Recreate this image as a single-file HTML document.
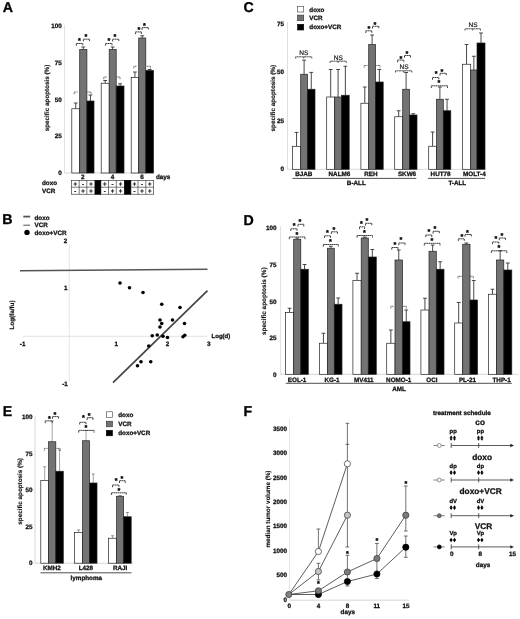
<!DOCTYPE html>
<html><head><meta charset="utf-8"><title>Figure</title>
<style>html,body{margin:0;padding:0;background:#fff;overflow:hidden}svg{display:block}text{font-family:'Liberation Sans', Arial, sans-serif;text-rendering:geometricPrecision;stroke-linejoin:round}</style>
</head><body>
<svg width="520" height="619" viewBox="0 0 520 619">
<rect x="0" y="0" width="520" height="619" fill="#fff"/>
<text x="2.70" y="11.80" font-size="14.20" font-weight="bold" fill="#000" stroke="#000" stroke-width="0.3">A</text>
<text x="2.20" y="224.30" font-size="14.20" font-weight="bold" fill="#000" stroke="#000" stroke-width="0.3">B</text>
<text x="243.40" y="11.75" font-size="14.20" font-weight="bold" fill="#000" stroke="#000" stroke-width="0.3">C</text>
<text x="243.40" y="224.50" font-size="14.20" font-weight="bold" fill="#000" stroke="#000" stroke-width="0.3">D</text>
<text x="2.80" y="415.70" font-size="14.20" font-weight="bold" fill="#000" stroke="#000" stroke-width="0.3">E</text>
<text x="243.40" y="415.70" font-size="14.20" font-weight="bold" fill="#000" stroke="#000" stroke-width="0.3">F</text>
<line x1="64.50" y1="25.00" x2="64.50" y2="173.00" stroke="#dadada" stroke-width="0.8"/>
<line x1="64.50" y1="173.00" x2="154.00" y2="173.00" stroke="#cccccc" stroke-width="0.8"/>
<text x="61.80" y="28.26" text-anchor="end" font-size="6.3" font-weight="bold" fill="#111" stroke="#111" stroke-width="0.28">100</text>
<text x="61.80" y="65.26" text-anchor="end" font-size="6.3" font-weight="bold" fill="#111" stroke="#111" stroke-width="0.28">75</text>
<text x="61.80" y="101.86" text-anchor="end" font-size="6.3" font-weight="bold" fill="#111" stroke="#111" stroke-width="0.28">50</text>
<text x="61.80" y="138.46" text-anchor="end" font-size="6.3" font-weight="bold" fill="#111" stroke="#111" stroke-width="0.28">25</text>
<text x="61.80" y="175.26" text-anchor="end" font-size="6.3" font-weight="bold" fill="#111" stroke="#111" stroke-width="0.28">0</text>
<text x="47.00" y="100.26" text-anchor="middle" font-size="6.3" font-weight="bold" fill="#111" stroke="#111" stroke-width="0.14" transform="rotate(-90 47.00 98.00)">specific apoptosis (%)</text>
<line x1="75.75" y1="103.00" x2="75.75" y2="108.75" stroke="#333" stroke-width="0.9"/>
<line x1="73.85" y1="103.00" x2="77.65" y2="103.00" stroke="#333" stroke-width="0.9"/>
<rect x="71.80" y="108.75" width="7.90" height="64.25" fill="#fff" stroke="#222" stroke-width="0.7"/>
<line x1="83.30" y1="47.00" x2="83.30" y2="49.50" stroke="#333" stroke-width="0.9"/>
<line x1="81.40" y1="47.00" x2="85.20" y2="47.00" stroke="#333" stroke-width="0.9"/>
<rect x="79.70" y="49.50" width="7.20" height="123.50" fill="#737373" stroke="#222" stroke-width="0.7"/>
<line x1="90.45" y1="95.00" x2="90.45" y2="101.00" stroke="#333" stroke-width="0.9"/>
<line x1="88.55" y1="95.00" x2="92.35" y2="95.00" stroke="#333" stroke-width="0.9"/>
<rect x="86.90" y="101.00" width="7.10" height="72.00" fill="#000" stroke="#222" stroke-width="0.7"/>
<line x1="105.20" y1="80.50" x2="105.20" y2="83.25" stroke="#333" stroke-width="0.9"/>
<line x1="103.30" y1="80.50" x2="107.10" y2="80.50" stroke="#333" stroke-width="0.9"/>
<rect x="101.20" y="83.25" width="8.00" height="89.75" fill="#fff" stroke="#222" stroke-width="0.7"/>
<line x1="112.70" y1="47.00" x2="112.70" y2="49.50" stroke="#333" stroke-width="0.9"/>
<line x1="110.80" y1="47.00" x2="114.60" y2="47.00" stroke="#333" stroke-width="0.9"/>
<rect x="109.20" y="49.50" width="7.00" height="123.50" fill="#737373" stroke="#222" stroke-width="0.7"/>
<line x1="120.10" y1="83.75" x2="120.10" y2="86.00" stroke="#333" stroke-width="0.9"/>
<line x1="118.20" y1="83.75" x2="122.00" y2="83.75" stroke="#333" stroke-width="0.9"/>
<rect x="116.20" y="86.00" width="7.80" height="87.00" fill="#000" stroke="#222" stroke-width="0.7"/>
<line x1="134.95" y1="72.00" x2="134.95" y2="77.50" stroke="#333" stroke-width="0.9"/>
<line x1="133.05" y1="72.00" x2="136.85" y2="72.00" stroke="#333" stroke-width="0.9"/>
<rect x="131.20" y="77.50" width="7.50" height="95.50" fill="#fff" stroke="#222" stroke-width="0.7"/>
<line x1="142.25" y1="35.75" x2="142.25" y2="38.00" stroke="#333" stroke-width="0.9"/>
<line x1="140.35" y1="35.75" x2="144.15" y2="35.75" stroke="#333" stroke-width="0.9"/>
<rect x="138.70" y="38.00" width="7.10" height="135.00" fill="#737373" stroke="#222" stroke-width="0.7"/>
<line x1="149.65" y1="69.50" x2="149.65" y2="70.50" stroke="#333" stroke-width="0.9"/>
<line x1="147.75" y1="69.50" x2="151.55" y2="69.50" stroke="#333" stroke-width="0.9"/>
<rect x="145.80" y="70.50" width="7.70" height="102.50" fill="#000" stroke="#222" stroke-width="0.7"/>
<path d="M76.40 45.70V43.50H82.80V45.70" fill="none" stroke="#2a2a2a" stroke-width="0.9" stroke-dasharray="1.8 0.3"/>
<text x="79.50" y="43.40" text-anchor="middle" font-size="7.2" font-weight="bold" fill="#000" stroke="#000" stroke-width="0.35">*</text>
<path d="M83.40 41.40V39.20H89.50V41.40" fill="none" stroke="#2a2a2a" stroke-width="0.9" stroke-dasharray="1.8 0.3"/>
<text x="85.80" y="39.20" text-anchor="middle" font-size="7.2" font-weight="bold" fill="#000" stroke="#000" stroke-width="0.35">*</text>
<path d="M105.60 45.70V43.50H112.00V45.70" fill="none" stroke="#2a2a2a" stroke-width="0.9" stroke-dasharray="1.8 0.3"/>
<text x="108.80" y="43.40" text-anchor="middle" font-size="7.2" font-weight="bold" fill="#000" stroke="#000" stroke-width="0.35">*</text>
<path d="M112.60 41.40V39.20H118.80V41.40" fill="none" stroke="#2a2a2a" stroke-width="0.9" stroke-dasharray="1.8 0.3"/>
<text x="115.00" y="39.20" text-anchor="middle" font-size="7.2" font-weight="bold" fill="#000" stroke="#000" stroke-width="0.35">*</text>
<path d="M135.50 34.10V31.90H141.40V34.10" fill="none" stroke="#2a2a2a" stroke-width="0.9" stroke-dasharray="1.8 0.3"/>
<text x="138.80" y="31.90" text-anchor="middle" font-size="7.2" font-weight="bold" fill="#000" stroke="#000" stroke-width="0.35">*</text>
<path d="M142.00 29.80V27.60H148.30V29.80" fill="none" stroke="#2a2a2a" stroke-width="0.9" stroke-dasharray="1.8 0.3"/>
<text x="144.50" y="27.50" text-anchor="middle" font-size="7.2" font-weight="bold" fill="#000" stroke="#000" stroke-width="0.35">*</text>
<path d="M74.20 94.20V92.00H77.50" fill="none" stroke="#444" stroke-width="0.8" stroke-dasharray="1.2 0.4"/>
<path d="M87.50 92.00H91.00V94.20" fill="none" stroke="#444" stroke-width="0.8" stroke-dasharray="1.2 0.4"/>
<path d="M103.80 79.20V77.00H107.00" fill="none" stroke="#444" stroke-width="0.8" stroke-dasharray="1.2 0.4"/>
<path d="M116.30 77.00H120.00V79.20" fill="none" stroke="#444" stroke-width="0.8" stroke-dasharray="1.2 0.4"/>
<path d="M133.80 68.50V66.30H136.80" fill="none" stroke="#444" stroke-width="0.8" stroke-dasharray="1.2 0.4"/>
<path d="M146.80 66.30H150.50V68.50" fill="none" stroke="#444" stroke-width="0.8" stroke-dasharray="1.2 0.4"/>
<text x="82.80" y="178.76" text-anchor="middle" font-size="6.3" font-weight="bold" fill="#111" stroke="#111" stroke-width="0.28">2</text>
<text x="112.40" y="178.76" text-anchor="middle" font-size="6.3" font-weight="bold" fill="#111" stroke="#111" stroke-width="0.28">4</text>
<text x="142.10" y="178.76" text-anchor="middle" font-size="6.3" font-weight="bold" fill="#111" stroke="#111" stroke-width="0.28">6</text>
<text x="156.00" y="178.66" text-anchor="start" font-size="6.3" font-weight="bold" fill="#111" stroke="#111" stroke-width="0.28">days</text>
<text x="42.00" y="185.26" text-anchor="start" font-size="6.3" font-weight="bold" fill="#111" stroke="#111" stroke-width="0.28">doxo</text>
<text x="42.00" y="192.86" text-anchor="start" font-size="6.3" font-weight="bold" fill="#111" stroke="#111" stroke-width="0.28">VCR</text>
<rect x="71.30" y="180.30" width="82.40" height="13.90" fill="#fff" stroke="#222" stroke-width="0.6"/>
<line x1="71.30" y1="187.20" x2="153.70" y2="187.20" stroke="#222" stroke-width="0.6"/>
<line x1="79.20" y1="180.30" x2="79.20" y2="194.20" stroke="#222" stroke-width="0.6"/>
<line x1="86.80" y1="180.30" x2="86.80" y2="194.20" stroke="#222" stroke-width="0.6"/>
<line x1="95.00" y1="180.30" x2="95.00" y2="194.20" stroke="#222" stroke-width="0.6"/>
<line x1="100.80" y1="180.30" x2="100.80" y2="194.20" stroke="#222" stroke-width="0.6"/>
<line x1="108.50" y1="180.30" x2="108.50" y2="194.20" stroke="#222" stroke-width="0.6"/>
<line x1="116.30" y1="180.30" x2="116.30" y2="194.20" stroke="#222" stroke-width="0.6"/>
<line x1="124.50" y1="180.30" x2="124.50" y2="194.20" stroke="#222" stroke-width="0.6"/>
<line x1="130.80" y1="180.30" x2="130.80" y2="194.20" stroke="#222" stroke-width="0.6"/>
<line x1="138.00" y1="180.30" x2="138.00" y2="194.20" stroke="#222" stroke-width="0.6"/>
<line x1="145.80" y1="180.30" x2="145.80" y2="194.20" stroke="#222" stroke-width="0.6"/>
<rect x="95.00" y="180.30" width="5.80" height="13.90" fill="#000" stroke="#000" stroke-width="0.5"/>
<rect x="124.50" y="180.30" width="6.30" height="13.90" fill="#000" stroke="#000" stroke-width="0.5"/>
<text x="75.25" y="186.05" text-anchor="middle" font-size="6.0" font-weight="bold" fill="#111" stroke="#111" stroke-width="0.28">+</text>
<text x="75.25" y="193.05" text-anchor="middle" font-size="6.0" font-weight="bold" fill="#111" stroke="#111" stroke-width="0.28">-</text>
<text x="83.00" y="186.05" text-anchor="middle" font-size="6.0" font-weight="bold" fill="#111" stroke="#111" stroke-width="0.28">-</text>
<text x="83.00" y="193.05" text-anchor="middle" font-size="6.0" font-weight="bold" fill="#111" stroke="#111" stroke-width="0.28">+</text>
<text x="90.90" y="186.05" text-anchor="middle" font-size="6.0" font-weight="bold" fill="#111" stroke="#111" stroke-width="0.28">+</text>
<text x="90.90" y="193.05" text-anchor="middle" font-size="6.0" font-weight="bold" fill="#111" stroke="#111" stroke-width="0.28">+</text>
<text x="104.65" y="186.05" text-anchor="middle" font-size="6.0" font-weight="bold" fill="#111" stroke="#111" stroke-width="0.28">+</text>
<text x="104.65" y="193.05" text-anchor="middle" font-size="6.0" font-weight="bold" fill="#111" stroke="#111" stroke-width="0.28">-</text>
<text x="112.40" y="186.05" text-anchor="middle" font-size="6.0" font-weight="bold" fill="#111" stroke="#111" stroke-width="0.28">-</text>
<text x="112.40" y="193.05" text-anchor="middle" font-size="6.0" font-weight="bold" fill="#111" stroke="#111" stroke-width="0.28">+</text>
<text x="120.40" y="186.05" text-anchor="middle" font-size="6.0" font-weight="bold" fill="#111" stroke="#111" stroke-width="0.28">+</text>
<text x="120.40" y="193.05" text-anchor="middle" font-size="6.0" font-weight="bold" fill="#111" stroke="#111" stroke-width="0.28">+</text>
<text x="134.40" y="186.05" text-anchor="middle" font-size="6.0" font-weight="bold" fill="#111" stroke="#111" stroke-width="0.28">+</text>
<text x="134.40" y="193.05" text-anchor="middle" font-size="6.0" font-weight="bold" fill="#111" stroke="#111" stroke-width="0.28">-</text>
<text x="141.90" y="186.05" text-anchor="middle" font-size="6.0" font-weight="bold" fill="#111" stroke="#111" stroke-width="0.28">-</text>
<text x="141.90" y="193.05" text-anchor="middle" font-size="6.0" font-weight="bold" fill="#111" stroke="#111" stroke-width="0.28">+</text>
<text x="149.75" y="186.05" text-anchor="middle" font-size="6.0" font-weight="bold" fill="#111" stroke="#111" stroke-width="0.28">+</text>
<text x="149.75" y="193.05" text-anchor="middle" font-size="6.0" font-weight="bold" fill="#111" stroke="#111" stroke-width="0.28">+</text>
<line x1="69.25" y1="244.00" x2="69.25" y2="381.00" stroke="#dedede" stroke-width="0.8"/>
<line x1="22.50" y1="336.30" x2="207.50" y2="336.30" stroke="#dadada" stroke-width="0.8"/>
<text x="67.30" y="242.56" text-anchor="end" font-size="6.3" font-weight="bold" fill="#111" stroke="#111" stroke-width="0.28">2</text>
<text x="67.60" y="289.76" text-anchor="end" font-size="6.3" font-weight="bold" fill="#111" stroke="#111" stroke-width="0.28">1</text>
<text x="67.80" y="385.86" text-anchor="end" font-size="6.3" font-weight="bold" fill="#111" stroke="#111" stroke-width="0.28">-1</text>
<text x="22.60" y="345.86" text-anchor="middle" font-size="6.3" font-weight="bold" fill="#111" stroke="#111" stroke-width="0.28">-1</text>
<text x="116.20" y="345.66" text-anchor="middle" font-size="6.3" font-weight="bold" fill="#111" stroke="#111" stroke-width="0.28">1</text>
<text x="167.50" y="345.66" text-anchor="middle" font-size="6.3" font-weight="bold" fill="#111" stroke="#111" stroke-width="0.28">2</text>
<text x="208.80" y="345.66" text-anchor="middle" font-size="6.3" font-weight="bold" fill="#111" stroke="#111" stroke-width="0.28">3</text>
<text x="211.60" y="338.35" text-anchor="start" font-size="6" font-weight="bold" fill="#111" stroke="#111" stroke-width="0.28">Log(d)</text>
<text x="11.80" y="317.26" text-anchor="middle" font-size="6.3" font-weight="bold" fill="#111" stroke="#111" stroke-width="0.14" transform="rotate(-90 11.80 315.00)">Log(fa/fu)</text>
<line x1="20.00" y1="270.80" x2="207.50" y2="269.20" stroke="#555" stroke-width="1.5"/>
<line x1="113.00" y1="382.60" x2="207.50" y2="290.60" stroke="#444" stroke-width="1.7"/>
<circle cx="120" cy="283" r="1.8" fill="#000"/>
<circle cx="129.5" cy="287.75" r="1.8" fill="#000"/>
<circle cx="143" cy="292.5" r="1.8" fill="#000"/>
<circle cx="161.75" cy="304.25" r="1.8" fill="#000"/>
<circle cx="180" cy="307.5" r="1.8" fill="#000"/>
<circle cx="160" cy="320" r="1.8" fill="#000"/>
<circle cx="172.5" cy="320" r="1.8" fill="#000"/>
<circle cx="161.75" cy="323.5" r="1.8" fill="#000"/>
<circle cx="184.5" cy="323.5" r="1.8" fill="#000"/>
<circle cx="160" cy="327" r="1.8" fill="#000"/>
<circle cx="152.25" cy="335.75" r="1.8" fill="#000"/>
<circle cx="157.25" cy="335" r="1.8" fill="#000"/>
<circle cx="163" cy="336.25" r="1.8" fill="#000"/>
<circle cx="167.5" cy="337.5" r="1.8" fill="#000"/>
<circle cx="183" cy="336.75" r="1.8" fill="#000"/>
<circle cx="184.75" cy="335.25" r="1.8" fill="#000"/>
<circle cx="148.75" cy="346" r="1.8" fill="#000"/>
<circle cx="141" cy="361.75" r="1.8" fill="#000"/>
<circle cx="150.75" cy="361.75" r="1.8" fill="#000"/>
<circle cx="137.5" cy="365.75" r="1.8" fill="#000"/>
<line x1="23.30" y1="216.60" x2="30.20" y2="216.60" stroke="#555" stroke-width="1.8"/>
<line x1="23.30" y1="225.20" x2="30.20" y2="225.20" stroke="#555" stroke-width="1.0"/>
<circle cx="27" cy="232.4" r="2.7" fill="#000"/>
<text x="34.50" y="219.76" text-anchor="start" font-size="6.3" font-weight="bold" fill="#111" stroke="#111" stroke-width="0.28">doxo</text>
<text x="34.50" y="227.36" text-anchor="start" font-size="6.3" font-weight="bold" fill="#111" stroke="#111" stroke-width="0.28">VCR</text>
<text x="34.50" y="234.86" text-anchor="start" font-size="6.3" font-weight="bold" fill="#111" stroke="#111" stroke-width="0.28">doxo+VCR</text>
<line x1="287.50" y1="22.00" x2="287.50" y2="169.30" stroke="#d8d8d8" stroke-width="0.8"/>
<line x1="287.50" y1="169.30" x2="486.00" y2="169.30" stroke="#d0d0d0" stroke-width="0.8"/>
<text x="284.00" y="26.06" text-anchor="end" font-size="6.3" font-weight="bold" fill="#111" stroke="#111" stroke-width="0.28">75</text>
<text x="284.00" y="74.36" text-anchor="end" font-size="6.3" font-weight="bold" fill="#111" stroke="#111" stroke-width="0.28">50</text>
<text x="284.00" y="122.96" text-anchor="end" font-size="6.3" font-weight="bold" fill="#111" stroke="#111" stroke-width="0.28">25</text>
<text x="284.00" y="171.36" text-anchor="end" font-size="6.3" font-weight="bold" fill="#111" stroke="#111" stroke-width="0.28">0</text>
<text x="272.50" y="100.46" text-anchor="middle" font-size="6.3" font-weight="bold" fill="#111" stroke="#111" stroke-width="0.14" transform="rotate(-90 272.50 98.20)">specific apoptosis (%)</text>
<rect x="297.60" y="6.30" width="6.10" height="5.70" fill="#fff" stroke="#444" stroke-width="0.6"/>
<rect x="297.60" y="15.10" width="6.10" height="5.60" fill="#737373" stroke="#333" stroke-width="0.6"/>
<rect x="297.60" y="24.30" width="6.10" height="5.70" fill="#000" stroke="#000" stroke-width="0.6"/>
<text x="309.30" y="11.56" text-anchor="start" font-size="6.3" font-weight="bold" fill="#111" stroke="#111" stroke-width="0.28">doxo</text>
<text x="309.30" y="20.26" text-anchor="start" font-size="6.3" font-weight="bold" fill="#111" stroke="#111" stroke-width="0.28">VCR</text>
<text x="309.30" y="29.06" text-anchor="start" font-size="6.3" font-weight="bold" fill="#111" stroke="#111" stroke-width="0.28">doxo+VCR</text>
<line x1="296.55" y1="132.40" x2="296.55" y2="146.30" stroke="#333" stroke-width="0.9"/>
<line x1="294.65" y1="132.40" x2="298.45" y2="132.40" stroke="#333" stroke-width="0.9"/>
<rect x="292.40" y="146.30" width="8.30" height="23.00" fill="#fff" stroke="#222" stroke-width="0.7"/>
<line x1="304.10" y1="60.20" x2="304.10" y2="74.25" stroke="#333" stroke-width="0.9"/>
<line x1="302.20" y1="60.20" x2="306.00" y2="60.20" stroke="#333" stroke-width="0.9"/>
<rect x="300.70" y="74.25" width="6.80" height="95.05" fill="#737373" stroke="#222" stroke-width="0.7"/>
<line x1="311.25" y1="72.40" x2="311.25" y2="89.25" stroke="#333" stroke-width="0.9"/>
<line x1="309.35" y1="72.40" x2="313.15" y2="72.40" stroke="#333" stroke-width="0.9"/>
<rect x="307.50" y="89.25" width="7.50" height="80.05" fill="#000" stroke="#222" stroke-width="0.7"/>
<line x1="330.70" y1="69.50" x2="330.70" y2="97.00" stroke="#333" stroke-width="0.9"/>
<line x1="328.80" y1="69.50" x2="332.60" y2="69.50" stroke="#333" stroke-width="0.9"/>
<rect x="326.70" y="97.00" width="8.00" height="72.30" fill="#fff" stroke="#222" stroke-width="0.7"/>
<line x1="338.10" y1="69.50" x2="338.10" y2="97.00" stroke="#333" stroke-width="0.9"/>
<line x1="336.20" y1="69.50" x2="340.00" y2="69.50" stroke="#333" stroke-width="0.9"/>
<rect x="334.70" y="97.00" width="6.80" height="72.30" fill="#737373" stroke="#222" stroke-width="0.7"/>
<line x1="345.35" y1="66.25" x2="345.35" y2="95.25" stroke="#333" stroke-width="0.9"/>
<line x1="343.45" y1="66.25" x2="347.25" y2="66.25" stroke="#333" stroke-width="0.9"/>
<rect x="341.50" y="95.25" width="7.70" height="74.05" fill="#000" stroke="#222" stroke-width="0.7"/>
<line x1="364.80" y1="87.00" x2="364.80" y2="103.25" stroke="#333" stroke-width="0.9"/>
<line x1="362.90" y1="87.00" x2="366.70" y2="87.00" stroke="#333" stroke-width="0.9"/>
<rect x="360.90" y="103.25" width="7.80" height="66.05" fill="#fff" stroke="#222" stroke-width="0.7"/>
<line x1="372.10" y1="35.00" x2="372.10" y2="44.50" stroke="#333" stroke-width="0.9"/>
<line x1="370.20" y1="35.00" x2="374.00" y2="35.00" stroke="#333" stroke-width="0.9"/>
<rect x="368.70" y="44.50" width="6.80" height="124.80" fill="#737373" stroke="#222" stroke-width="0.7"/>
<line x1="379.35" y1="69.50" x2="379.35" y2="82.00" stroke="#333" stroke-width="0.9"/>
<line x1="377.45" y1="69.50" x2="381.25" y2="69.50" stroke="#333" stroke-width="0.9"/>
<rect x="375.50" y="82.00" width="7.70" height="87.30" fill="#000" stroke="#222" stroke-width="0.7"/>
<line x1="398.70" y1="110.75" x2="398.70" y2="116.75" stroke="#333" stroke-width="0.9"/>
<line x1="396.80" y1="110.75" x2="400.60" y2="110.75" stroke="#333" stroke-width="0.9"/>
<rect x="394.70" y="116.75" width="8.00" height="52.55" fill="#fff" stroke="#222" stroke-width="0.7"/>
<line x1="406.10" y1="72.50" x2="406.10" y2="89.25" stroke="#333" stroke-width="0.9"/>
<line x1="404.20" y1="72.50" x2="408.00" y2="72.50" stroke="#333" stroke-width="0.9"/>
<rect x="402.70" y="89.25" width="6.80" height="80.05" fill="#737373" stroke="#222" stroke-width="0.7"/>
<line x1="413.25" y1="113.75" x2="413.25" y2="115.00" stroke="#333" stroke-width="0.9"/>
<line x1="411.35" y1="113.75" x2="415.15" y2="113.75" stroke="#333" stroke-width="0.9"/>
<rect x="409.50" y="115.00" width="7.50" height="54.30" fill="#000" stroke="#222" stroke-width="0.7"/>
<line x1="432.60" y1="132.00" x2="432.60" y2="146.25" stroke="#333" stroke-width="0.9"/>
<line x1="430.70" y1="132.00" x2="434.50" y2="132.00" stroke="#333" stroke-width="0.9"/>
<rect x="428.70" y="146.25" width="7.80" height="23.05" fill="#fff" stroke="#222" stroke-width="0.7"/>
<line x1="439.90" y1="87.00" x2="439.90" y2="99.25" stroke="#333" stroke-width="0.9"/>
<line x1="438.00" y1="87.00" x2="441.80" y2="87.00" stroke="#333" stroke-width="0.9"/>
<rect x="436.50" y="99.25" width="6.80" height="70.05" fill="#737373" stroke="#222" stroke-width="0.7"/>
<line x1="447.05" y1="99.25" x2="447.05" y2="110.75" stroke="#333" stroke-width="0.9"/>
<line x1="445.15" y1="99.25" x2="448.95" y2="99.25" stroke="#333" stroke-width="0.9"/>
<rect x="443.30" y="110.75" width="7.50" height="58.55" fill="#000" stroke="#222" stroke-width="0.7"/>
<line x1="466.55" y1="44.50" x2="466.55" y2="64.25" stroke="#333" stroke-width="0.9"/>
<line x1="464.65" y1="44.50" x2="468.45" y2="44.50" stroke="#333" stroke-width="0.9"/>
<rect x="462.40" y="64.25" width="8.30" height="105.05" fill="#fff" stroke="#222" stroke-width="0.7"/>
<line x1="473.85" y1="56.25" x2="473.85" y2="70.00" stroke="#333" stroke-width="0.9"/>
<line x1="471.95" y1="56.25" x2="475.75" y2="56.25" stroke="#333" stroke-width="0.9"/>
<rect x="470.70" y="70.00" width="6.30" height="99.30" fill="#737373" stroke="#222" stroke-width="0.7"/>
<line x1="481.00" y1="33.00" x2="481.00" y2="43.00" stroke="#333" stroke-width="0.9"/>
<line x1="479.10" y1="33.00" x2="482.90" y2="33.00" stroke="#333" stroke-width="0.9"/>
<rect x="477.00" y="43.00" width="8.00" height="126.30" fill="#000" stroke="#222" stroke-width="0.7"/>
<path d="M295.70 58.50V56.80H311.80V58.50M303.75 56.80V58.50" fill="none" stroke="#333" stroke-width="0.85" stroke-dasharray="2.2 0.3"/>
<text x="303.80" y="54.86" text-anchor="middle" font-size="6.6" font-weight="normal" fill="#222" stroke="#222" stroke-width="0.2">NS</text>
<path d="M330.10 62.90V61.20H346.20V62.90M338.15 61.20V62.90" fill="none" stroke="#333" stroke-width="0.85" stroke-dasharray="2.2 0.3"/>
<text x="338.30" y="59.66" text-anchor="middle" font-size="6.6" font-weight="normal" fill="#222" stroke="#222" stroke-width="0.2">NS</text>
<path d="M365.80 33.00V30.80H371.80V33.00" fill="none" stroke="#2a2a2a" stroke-width="0.9" stroke-dasharray="1.8 0.3"/>
<text x="368.80" y="31.10" text-anchor="middle" font-size="7.2" font-weight="bold" fill="#000" stroke="#000" stroke-width="0.35">*</text>
<path d="M372.50 28.50V26.30H378.80V28.50" fill="none" stroke="#2a2a2a" stroke-width="0.9" stroke-dasharray="1.8 0.3"/>
<text x="375.00" y="27.30" text-anchor="middle" font-size="7.2" font-weight="bold" fill="#000" stroke="#000" stroke-width="0.35">*</text>
<path d="M364.20 67.70V65.50H367.50" fill="none" stroke="#444" stroke-width="0.8" stroke-dasharray="1.2 0.4"/>
<path d="M376.30 65.50H380.00V67.70" fill="none" stroke="#444" stroke-width="0.8" stroke-dasharray="1.2 0.4"/>
<path d="M395.50 72.50V70.80H411.80V72.50M403.65 70.80V72.50" fill="none" stroke="#333" stroke-width="0.85" stroke-dasharray="2.2 0.3"/>
<text x="404.20" y="68.56" text-anchor="middle" font-size="6.6" font-weight="normal" fill="#222" stroke="#222" stroke-width="0.2">NS</text>
<path d="M397.50 62.20V60.00H403.80V62.20" fill="none" stroke="#2a2a2a" stroke-width="0.9" stroke-dasharray="1.8 0.3"/>
<text x="400.80" y="60.60" text-anchor="middle" font-size="7.2" font-weight="bold" fill="#000" stroke="#000" stroke-width="0.35">*</text>
<path d="M404.50 57.70V55.50H410.50V57.70" fill="none" stroke="#2a2a2a" stroke-width="0.9" stroke-dasharray="1.8 0.3"/>
<text x="406.80" y="56.10" text-anchor="middle" font-size="7.2" font-weight="bold" fill="#000" stroke="#000" stroke-width="0.35">*</text>
<path d="M431.30 88.00V85.80H447.50V88.00" fill="none" stroke="#2a2a2a" stroke-width="0.9" stroke-dasharray="1.8 0.3"/>
<text x="438.80" y="85.40" text-anchor="middle" font-size="7.2" font-weight="bold" fill="#000" stroke="#000" stroke-width="0.35">*</text>
<path d="M432.50 79.70V77.50H438.80V79.70" fill="none" stroke="#2a2a2a" stroke-width="0.9" stroke-dasharray="1.8 0.3"/>
<text x="436.20" y="76.20" text-anchor="middle" font-size="7.2" font-weight="bold" fill="#000" stroke="#000" stroke-width="0.35">*</text>
<path d="M440.00 75.50V73.30H446.30V75.50" fill="none" stroke="#2a2a2a" stroke-width="0.9" stroke-dasharray="1.8 0.3"/>
<text x="442.00" y="73.60" text-anchor="middle" font-size="7.2" font-weight="bold" fill="#000" stroke="#000" stroke-width="0.35">*</text>
<path d="M465.00 30.50V28.80H480.50V30.50M472.75 28.80V30.50" fill="none" stroke="#333" stroke-width="0.85" stroke-dasharray="2.2 0.3"/>
<text x="473.00" y="26.76" text-anchor="middle" font-size="6.6" font-weight="normal" fill="#222" stroke="#222" stroke-width="0.2">NS</text>
<text x="303.80" y="176.36" text-anchor="middle" font-size="6.3" font-weight="bold" fill="#111" stroke="#111" stroke-width="0.28">BJAB</text>
<text x="339.40" y="176.36" text-anchor="middle" font-size="6.3" font-weight="bold" fill="#111" stroke="#111" stroke-width="0.28">NALM6</text>
<text x="370.90" y="176.36" text-anchor="middle" font-size="6.3" font-weight="bold" fill="#111" stroke="#111" stroke-width="0.28">REH</text>
<text x="407.00" y="176.36" text-anchor="middle" font-size="6.3" font-weight="bold" fill="#111" stroke="#111" stroke-width="0.28">SKW6</text>
<text x="440.60" y="176.36" text-anchor="middle" font-size="6.3" font-weight="bold" fill="#111" stroke="#111" stroke-width="0.28">HUT78</text>
<text x="474.40" y="176.36" text-anchor="middle" font-size="6.3" font-weight="bold" fill="#111" stroke="#111" stroke-width="0.28">MOLT-4</text>
<line x1="292.50" y1="178.40" x2="416.30" y2="178.40" stroke="#222" stroke-width="0.8"/>
<line x1="428.00" y1="178.40" x2="485.00" y2="178.40" stroke="#222" stroke-width="0.8"/>
<text x="356.30" y="185.46" text-anchor="middle" font-size="6.3" font-weight="bold" fill="#111" stroke="#111" stroke-width="0.28">B-ALL</text>
<text x="457.30" y="185.46" text-anchor="middle" font-size="6.3" font-weight="bold" fill="#111" stroke="#111" stroke-width="0.28">T-ALL</text>
<line x1="280.60" y1="226.00" x2="280.60" y2="374.30" stroke="#d6d6d6" stroke-width="0.8"/>
<line x1="280.60" y1="374.30" x2="518.50" y2="374.30" stroke="#cccccc" stroke-width="0.8"/>
<text x="276.50" y="230.26" text-anchor="end" font-size="6.3" font-weight="bold" fill="#111" stroke="#111" stroke-width="0.28">100</text>
<text x="276.50" y="267.26" text-anchor="end" font-size="6.3" font-weight="bold" fill="#111" stroke="#111" stroke-width="0.28">75</text>
<text x="276.50" y="303.66" text-anchor="end" font-size="6.3" font-weight="bold" fill="#111" stroke="#111" stroke-width="0.28">50</text>
<text x="276.50" y="340.26" text-anchor="end" font-size="6.3" font-weight="bold" fill="#111" stroke="#111" stroke-width="0.28">25</text>
<text x="276.50" y="376.66" text-anchor="end" font-size="6.3" font-weight="bold" fill="#111" stroke="#111" stroke-width="0.28">0</text>
<text x="263.30" y="303.49" text-anchor="middle" font-size="6.4" font-weight="bold" fill="#111" stroke="#111" stroke-width="0.14" transform="rotate(-90 263.30 301.20)">specific apoptosis (%)</text>
<line x1="289.55" y1="308.25" x2="289.55" y2="312.50" stroke="#333" stroke-width="0.9"/>
<line x1="287.65" y1="308.25" x2="291.45" y2="308.25" stroke="#333" stroke-width="0.9"/>
<rect x="285.40" y="312.50" width="8.30" height="61.80" fill="#fff" stroke="#222" stroke-width="0.7"/>
<line x1="297.25" y1="238.00" x2="297.25" y2="239.25" stroke="#333" stroke-width="0.9"/>
<line x1="295.35" y1="238.00" x2="299.15" y2="238.00" stroke="#333" stroke-width="0.9"/>
<rect x="293.70" y="239.25" width="7.10" height="135.05" fill="#737373" stroke="#222" stroke-width="0.7"/>
<line x1="304.55" y1="264.50" x2="304.55" y2="269.25" stroke="#333" stroke-width="0.9"/>
<line x1="302.65" y1="264.50" x2="306.45" y2="264.50" stroke="#333" stroke-width="0.9"/>
<rect x="300.80" y="269.25" width="7.50" height="105.05" fill="#000" stroke="#222" stroke-width="0.7"/>
<line x1="323.45" y1="333.25" x2="323.45" y2="343.25" stroke="#333" stroke-width="0.9"/>
<line x1="321.55" y1="333.25" x2="325.35" y2="333.25" stroke="#333" stroke-width="0.9"/>
<rect x="319.40" y="343.25" width="8.10" height="31.05" fill="#fff" stroke="#222" stroke-width="0.7"/>
<line x1="330.90" y1="246.25" x2="330.90" y2="248.25" stroke="#333" stroke-width="0.9"/>
<line x1="329.00" y1="246.25" x2="332.80" y2="246.25" stroke="#333" stroke-width="0.9"/>
<rect x="327.50" y="248.25" width="6.80" height="126.05" fill="#737373" stroke="#222" stroke-width="0.7"/>
<line x1="338.15" y1="298.00" x2="338.15" y2="304.25" stroke="#333" stroke-width="0.9"/>
<line x1="336.25" y1="298.00" x2="340.05" y2="298.00" stroke="#333" stroke-width="0.9"/>
<rect x="334.30" y="304.25" width="7.70" height="70.05" fill="#000" stroke="#222" stroke-width="0.7"/>
<line x1="357.05" y1="273.25" x2="357.05" y2="280.50" stroke="#333" stroke-width="0.9"/>
<line x1="355.15" y1="273.25" x2="358.95" y2="273.25" stroke="#333" stroke-width="0.9"/>
<rect x="352.90" y="280.50" width="8.30" height="93.80" fill="#fff" stroke="#222" stroke-width="0.7"/>
<line x1="364.75" y1="237.00" x2="364.75" y2="238.00" stroke="#333" stroke-width="0.9"/>
<line x1="362.85" y1="237.00" x2="366.65" y2="237.00" stroke="#333" stroke-width="0.9"/>
<rect x="361.20" y="238.00" width="7.10" height="136.30" fill="#737373" stroke="#222" stroke-width="0.7"/>
<line x1="372.30" y1="249.50" x2="372.30" y2="257.00" stroke="#333" stroke-width="0.9"/>
<line x1="370.40" y1="249.50" x2="374.20" y2="249.50" stroke="#333" stroke-width="0.9"/>
<rect x="368.30" y="257.00" width="8.00" height="117.30" fill="#000" stroke="#222" stroke-width="0.7"/>
<line x1="390.85" y1="330.00" x2="390.85" y2="343.25" stroke="#333" stroke-width="0.9"/>
<line x1="388.95" y1="330.00" x2="392.75" y2="330.00" stroke="#333" stroke-width="0.9"/>
<rect x="386.70" y="343.25" width="8.30" height="31.05" fill="#fff" stroke="#222" stroke-width="0.7"/>
<line x1="398.75" y1="250.00" x2="398.75" y2="260.00" stroke="#333" stroke-width="0.9"/>
<line x1="396.85" y1="250.00" x2="400.65" y2="250.00" stroke="#333" stroke-width="0.9"/>
<rect x="395.00" y="260.00" width="7.50" height="114.30" fill="#737373" stroke="#222" stroke-width="0.7"/>
<line x1="406.25" y1="310.00" x2="406.25" y2="321.75" stroke="#333" stroke-width="0.9"/>
<line x1="404.35" y1="310.00" x2="408.15" y2="310.00" stroke="#333" stroke-width="0.9"/>
<rect x="402.50" y="321.75" width="7.50" height="52.55" fill="#000" stroke="#222" stroke-width="0.7"/>
<line x1="424.95" y1="298.25" x2="424.95" y2="310.00" stroke="#333" stroke-width="0.9"/>
<line x1="423.05" y1="298.25" x2="426.85" y2="298.25" stroke="#333" stroke-width="0.9"/>
<rect x="420.90" y="310.00" width="8.10" height="64.30" fill="#fff" stroke="#222" stroke-width="0.7"/>
<line x1="432.65" y1="245.00" x2="432.65" y2="251.25" stroke="#333" stroke-width="0.9"/>
<line x1="430.75" y1="245.00" x2="434.55" y2="245.00" stroke="#333" stroke-width="0.9"/>
<rect x="429.00" y="251.25" width="7.30" height="123.05" fill="#737373" stroke="#222" stroke-width="0.7"/>
<line x1="440.15" y1="261.75" x2="440.15" y2="269.25" stroke="#333" stroke-width="0.9"/>
<line x1="438.25" y1="261.75" x2="442.05" y2="261.75" stroke="#333" stroke-width="0.9"/>
<rect x="436.30" y="269.25" width="7.70" height="105.05" fill="#000" stroke="#222" stroke-width="0.7"/>
<line x1="458.70" y1="302.50" x2="458.70" y2="323.00" stroke="#333" stroke-width="0.9"/>
<line x1="456.80" y1="302.50" x2="460.60" y2="302.50" stroke="#333" stroke-width="0.9"/>
<rect x="454.70" y="323.00" width="8.00" height="51.30" fill="#fff" stroke="#222" stroke-width="0.7"/>
<line x1="466.35" y1="243.00" x2="466.35" y2="244.25" stroke="#333" stroke-width="0.9"/>
<line x1="464.45" y1="243.00" x2="468.25" y2="243.00" stroke="#333" stroke-width="0.9"/>
<rect x="462.70" y="244.25" width="7.30" height="130.05" fill="#737373" stroke="#222" stroke-width="0.7"/>
<line x1="473.75" y1="280.50" x2="473.75" y2="300.00" stroke="#333" stroke-width="0.9"/>
<line x1="471.85" y1="280.50" x2="475.65" y2="280.50" stroke="#333" stroke-width="0.9"/>
<rect x="470.00" y="300.00" width="7.50" height="74.30" fill="#000" stroke="#222" stroke-width="0.7"/>
<line x1="492.45" y1="289.25" x2="492.45" y2="294.25" stroke="#333" stroke-width="0.9"/>
<line x1="490.55" y1="289.25" x2="494.35" y2="289.25" stroke="#333" stroke-width="0.9"/>
<rect x="488.40" y="294.25" width="8.10" height="80.05" fill="#fff" stroke="#222" stroke-width="0.7"/>
<line x1="500.15" y1="250.75" x2="500.15" y2="260.00" stroke="#333" stroke-width="0.9"/>
<line x1="498.25" y1="250.75" x2="502.05" y2="250.75" stroke="#333" stroke-width="0.9"/>
<rect x="496.50" y="260.00" width="7.30" height="114.30" fill="#737373" stroke="#222" stroke-width="0.7"/>
<line x1="507.80" y1="263.00" x2="507.80" y2="270.00" stroke="#333" stroke-width="0.9"/>
<line x1="505.90" y1="263.00" x2="509.70" y2="263.00" stroke="#333" stroke-width="0.9"/>
<rect x="503.80" y="270.00" width="8.00" height="104.30" fill="#000" stroke="#222" stroke-width="0.7"/>
<path d="M289.30 239.20V237.00H305.00V239.20" fill="none" stroke="#2a2a2a" stroke-width="0.9" stroke-dasharray="1.8 0.3"/>
<text x="297.00" y="236.80" text-anchor="middle" font-size="7.2" font-weight="bold" fill="#000" stroke="#000" stroke-width="0.35">*</text>
<path d="M290.80 231.00V228.80H297.00V231.00" fill="none" stroke="#2a2a2a" stroke-width="0.9" stroke-dasharray="1.8 0.3"/>
<text x="294.20" y="227.90" text-anchor="middle" font-size="7.2" font-weight="bold" fill="#000" stroke="#000" stroke-width="0.35">*</text>
<path d="M298.00 226.50V224.30H303.80V226.50" fill="none" stroke="#2a2a2a" stroke-width="0.9" stroke-dasharray="1.8 0.3"/>
<text x="300.00" y="224.30" text-anchor="middle" font-size="7.2" font-weight="bold" fill="#000" stroke="#000" stroke-width="0.35">*</text>
<path d="M323.30 246.70V244.50H338.30V246.70" fill="none" stroke="#2a2a2a" stroke-width="0.9" stroke-dasharray="1.8 0.3"/>
<text x="330.50" y="244.30" text-anchor="middle" font-size="7.2" font-weight="bold" fill="#000" stroke="#000" stroke-width="0.35">*</text>
<path d="M324.50 238.00V235.80H330.50V238.00" fill="none" stroke="#2a2a2a" stroke-width="0.9" stroke-dasharray="1.8 0.3"/>
<text x="327.50" y="234.90" text-anchor="middle" font-size="7.2" font-weight="bold" fill="#000" stroke="#000" stroke-width="0.35">*</text>
<path d="M331.30 234.00V231.80H337.50V234.00" fill="none" stroke="#2a2a2a" stroke-width="0.9" stroke-dasharray="1.8 0.3"/>
<text x="333.80" y="231.80" text-anchor="middle" font-size="7.2" font-weight="bold" fill="#000" stroke="#000" stroke-width="0.35">*</text>
<path d="M357.00 237.70V235.50H372.50V237.70" fill="none" stroke="#2a2a2a" stroke-width="0.9" stroke-dasharray="1.8 0.3"/>
<text x="364.50" y="235.30" text-anchor="middle" font-size="7.2" font-weight="bold" fill="#000" stroke="#000" stroke-width="0.35">*</text>
<path d="M359.50 229.00V226.80H364.50V229.00" fill="none" stroke="#2a2a2a" stroke-width="0.9" stroke-dasharray="1.8 0.3"/>
<text x="361.30" y="226.10" text-anchor="middle" font-size="7.2" font-weight="bold" fill="#000" stroke="#000" stroke-width="0.35">*</text>
<path d="M365.50 225.50V223.30H371.80V225.50" fill="none" stroke="#2a2a2a" stroke-width="0.9" stroke-dasharray="1.8 0.3"/>
<text x="367.00" y="222.90" text-anchor="middle" font-size="7.2" font-weight="bold" fill="#000" stroke="#000" stroke-width="0.35">*</text>
<path d="M391.80 249.70V247.50H398.00V249.70" fill="none" stroke="#2a2a2a" stroke-width="0.9" stroke-dasharray="1.8 0.3"/>
<text x="395.00" y="246.90" text-anchor="middle" font-size="7.2" font-weight="bold" fill="#000" stroke="#000" stroke-width="0.35">*</text>
<path d="M398.80 245.20V243.00H405.00V245.20" fill="none" stroke="#2a2a2a" stroke-width="0.9" stroke-dasharray="1.8 0.3"/>
<text x="400.80" y="242.40" text-anchor="middle" font-size="7.2" font-weight="bold" fill="#000" stroke="#000" stroke-width="0.35">*</text>
<path d="M390.80 308.50V306.30H393.80" fill="none" stroke="#444" stroke-width="0.8" stroke-dasharray="1.2 0.4"/>
<path d="M402.50 306.30H406.30V308.50" fill="none" stroke="#444" stroke-width="0.8" stroke-dasharray="1.2 0.4"/>
<path d="M424.30 245.50V243.30H440.00V245.50" fill="none" stroke="#2a2a2a" stroke-width="0.9" stroke-dasharray="1.8 0.3"/>
<text x="431.80" y="243.10" text-anchor="middle" font-size="7.2" font-weight="bold" fill="#000" stroke="#000" stroke-width="0.35">*</text>
<path d="M425.80 237.20V235.00H431.80V237.20" fill="none" stroke="#2a2a2a" stroke-width="0.9" stroke-dasharray="1.8 0.3"/>
<text x="428.80" y="234.10" text-anchor="middle" font-size="7.2" font-weight="bold" fill="#000" stroke="#000" stroke-width="0.35">*</text>
<path d="M433.00 233.50V231.30H439.30V233.50" fill="none" stroke="#2a2a2a" stroke-width="0.9" stroke-dasharray="1.8 0.3"/>
<text x="435.00" y="231.10" text-anchor="middle" font-size="7.2" font-weight="bold" fill="#000" stroke="#000" stroke-width="0.35">*</text>
<path d="M458.30 241.00V238.80H464.30V241.00" fill="none" stroke="#2a2a2a" stroke-width="0.9" stroke-dasharray="1.8 0.3"/>
<text x="461.80" y="239.30" text-anchor="middle" font-size="7.2" font-weight="bold" fill="#000" stroke="#000" stroke-width="0.35">*</text>
<path d="M465.00 236.70V234.50H471.30V236.70" fill="none" stroke="#2a2a2a" stroke-width="0.9" stroke-dasharray="1.8 0.3"/>
<text x="467.50" y="234.80" text-anchor="middle" font-size="7.2" font-weight="bold" fill="#000" stroke="#000" stroke-width="0.35">*</text>
<path d="M458.00 278.50V276.30H461.80" fill="none" stroke="#444" stroke-width="0.8" stroke-dasharray="1.2 0.4"/>
<path d="M469.50 276.30H473.30V278.50" fill="none" stroke="#444" stroke-width="0.8" stroke-dasharray="1.2 0.4"/>
<path d="M491.30 253.00V250.80H506.80V253.00" fill="none" stroke="#2a2a2a" stroke-width="0.9" stroke-dasharray="1.8 0.3"/>
<text x="498.80" y="250.30" text-anchor="middle" font-size="7.2" font-weight="bold" fill="#000" stroke="#000" stroke-width="0.35">*</text>
<path d="M492.50 244.20V242.00H498.80V244.20" fill="none" stroke="#2a2a2a" stroke-width="0.9" stroke-dasharray="1.8 0.3"/>
<text x="495.80" y="241.10" text-anchor="middle" font-size="7.2" font-weight="bold" fill="#000" stroke="#000" stroke-width="0.35">*</text>
<path d="M499.30 240.20V238.00H505.50V240.20" fill="none" stroke="#2a2a2a" stroke-width="0.9" stroke-dasharray="1.8 0.3"/>
<text x="501.80" y="238.10" text-anchor="middle" font-size="7.2" font-weight="bold" fill="#000" stroke="#000" stroke-width="0.35">*</text>
<text x="297.10" y="381.56" text-anchor="middle" font-size="6.3" font-weight="bold" fill="#111" stroke="#111" stroke-width="0.28">EOL-1</text>
<text x="331.90" y="381.56" text-anchor="middle" font-size="6.3" font-weight="bold" fill="#111" stroke="#111" stroke-width="0.28">KG-1</text>
<text x="363.80" y="381.56" text-anchor="middle" font-size="6.3" font-weight="bold" fill="#111" stroke="#111" stroke-width="0.28">MV411</text>
<text x="398.70" y="381.56" text-anchor="middle" font-size="6.3" font-weight="bold" fill="#111" stroke="#111" stroke-width="0.28">NOMO-1</text>
<text x="431.90" y="381.56" text-anchor="middle" font-size="6.3" font-weight="bold" fill="#111" stroke="#111" stroke-width="0.28">OCI</text>
<text x="467.50" y="381.56" text-anchor="middle" font-size="6.3" font-weight="bold" fill="#111" stroke="#111" stroke-width="0.28">PL-21</text>
<text x="501.60" y="381.56" text-anchor="middle" font-size="6.3" font-weight="bold" fill="#111" stroke="#111" stroke-width="0.28">THP-1</text>
<line x1="285.80" y1="383.30" x2="511.80" y2="383.30" stroke="#222" stroke-width="0.8"/>
<text x="399.00" y="390.56" text-anchor="middle" font-size="6.3" font-weight="bold" fill="#111" stroke="#111" stroke-width="0.28">AML</text>
<line x1="35.00" y1="416.00" x2="35.00" y2="563.20" stroke="#cccccc" stroke-width="0.8"/>
<line x1="35.00" y1="563.20" x2="133.00" y2="563.20" stroke="#cccccc" stroke-width="0.8"/>
<text x="32.50" y="419.26" text-anchor="end" font-size="6.3" font-weight="bold" fill="#111" stroke="#111" stroke-width="0.28">100</text>
<text x="32.50" y="455.56" text-anchor="end" font-size="6.3" font-weight="bold" fill="#111" stroke="#111" stroke-width="0.28">75</text>
<text x="32.50" y="492.26" text-anchor="end" font-size="6.3" font-weight="bold" fill="#111" stroke="#111" stroke-width="0.28">50</text>
<text x="32.50" y="528.56" text-anchor="end" font-size="6.3" font-weight="bold" fill="#111" stroke="#111" stroke-width="0.28">25</text>
<text x="32.50" y="565.36" text-anchor="end" font-size="6.3" font-weight="bold" fill="#111" stroke="#111" stroke-width="0.28">0</text>
<text x="19.50" y="493.66" text-anchor="middle" font-size="6.3" font-weight="bold" fill="#111" stroke="#111" stroke-width="0.14" transform="rotate(-90 19.50 491.40)">specific apoptosis (%)</text>
<rect x="106.30" y="411.80" width="6.20" height="5.70" fill="#fff" stroke="#444" stroke-width="0.6"/>
<rect x="106.30" y="421.20" width="6.20" height="5.60" fill="#737373" stroke="#333" stroke-width="0.6"/>
<rect x="106.30" y="430.30" width="6.20" height="5.50" fill="#000" stroke="#000" stroke-width="0.6"/>
<text x="118.20" y="417.26" text-anchor="start" font-size="6.3" font-weight="bold" fill="#111" stroke="#111" stroke-width="0.28">doxo</text>
<text x="118.20" y="426.46" text-anchor="start" font-size="6.3" font-weight="bold" fill="#111" stroke="#111" stroke-width="0.28">VCR</text>
<text x="118.20" y="435.26" text-anchor="start" font-size="6.3" font-weight="bold" fill="#111" stroke="#111" stroke-width="0.28">doxo+VCR</text>
<line x1="44.70" y1="466.75" x2="44.70" y2="480.50" stroke="#666" stroke-width="0.6"/>
<line x1="43.20" y1="466.75" x2="46.20" y2="466.75" stroke="#666" stroke-width="0.7"/>
<rect x="40.80" y="480.50" width="7.80" height="82.70" fill="#fff" stroke="#222" stroke-width="0.7"/>
<line x1="52.20" y1="421.00" x2="52.20" y2="441.75" stroke="#666" stroke-width="0.6"/>
<line x1="50.70" y1="421.00" x2="53.70" y2="421.00" stroke="#666" stroke-width="0.7"/>
<rect x="48.60" y="441.75" width="7.20" height="121.45" fill="#737373" stroke="#222" stroke-width="0.7"/>
<line x1="59.55" y1="450.00" x2="59.55" y2="471.25" stroke="#666" stroke-width="0.6"/>
<line x1="58.05" y1="450.00" x2="61.05" y2="450.00" stroke="#666" stroke-width="0.7"/>
<rect x="55.80" y="471.25" width="7.50" height="91.95" fill="#000" stroke="#222" stroke-width="0.7"/>
<line x1="78.60" y1="530.00" x2="78.60" y2="532.50" stroke="#666" stroke-width="0.6"/>
<line x1="77.10" y1="530.00" x2="80.10" y2="530.00" stroke="#666" stroke-width="0.7"/>
<rect x="74.60" y="532.50" width="8.00" height="30.70" fill="#fff" stroke="#222" stroke-width="0.7"/>
<line x1="86.05" y1="430.50" x2="86.05" y2="440.75" stroke="#666" stroke-width="0.6"/>
<line x1="84.55" y1="430.50" x2="87.55" y2="430.50" stroke="#666" stroke-width="0.7"/>
<rect x="82.60" y="440.75" width="6.90" height="122.45" fill="#737373" stroke="#222" stroke-width="0.7"/>
<line x1="93.25" y1="474.00" x2="93.25" y2="483.00" stroke="#666" stroke-width="0.6"/>
<line x1="91.75" y1="474.00" x2="94.75" y2="474.00" stroke="#666" stroke-width="0.7"/>
<rect x="89.50" y="483.00" width="7.50" height="80.20" fill="#000" stroke="#222" stroke-width="0.7"/>
<line x1="112.55" y1="535.75" x2="112.55" y2="538.25" stroke="#666" stroke-width="0.6"/>
<line x1="111.05" y1="535.75" x2="114.05" y2="535.75" stroke="#666" stroke-width="0.7"/>
<rect x="108.50" y="538.25" width="8.10" height="24.95" fill="#fff" stroke="#222" stroke-width="0.7"/>
<line x1="120.10" y1="495.50" x2="120.10" y2="496.25" stroke="#666" stroke-width="0.6"/>
<line x1="118.60" y1="495.50" x2="121.60" y2="495.50" stroke="#666" stroke-width="0.7"/>
<rect x="116.60" y="496.25" width="7.00" height="66.95" fill="#737373" stroke="#222" stroke-width="0.7"/>
<line x1="127.40" y1="512.50" x2="127.40" y2="516.75" stroke="#666" stroke-width="0.6"/>
<line x1="125.90" y1="512.50" x2="128.90" y2="512.50" stroke="#666" stroke-width="0.7"/>
<rect x="123.60" y="516.75" width="7.60" height="46.45" fill="#000" stroke="#222" stroke-width="0.7"/>
<path d="M45.20 423.10V420.90H52.20V423.10" fill="none" stroke="#2a2a2a" stroke-width="0.9" stroke-dasharray="1.8 0.3"/>
<text x="49.50" y="421.30" text-anchor="middle" font-size="7.2" font-weight="bold" fill="#000" stroke="#000" stroke-width="0.35">*</text>
<path d="M52.40 418.80V416.60H58.60V418.80" fill="none" stroke="#2a2a2a" stroke-width="0.9" stroke-dasharray="1.8 0.3"/>
<text x="55.00" y="417.10" text-anchor="middle" font-size="7.2" font-weight="bold" fill="#000" stroke="#000" stroke-width="0.35">*</text>
<path d="M44.40 450.60V448.40H47.60" fill="none" stroke="#444" stroke-width="0.8" stroke-dasharray="1.2 0.4"/>
<path d="M56.40 448.40H60.00V450.60" fill="none" stroke="#444" stroke-width="0.8" stroke-dasharray="1.2 0.4"/>
<path d="M78.70 432.60V430.40H94.10V432.60" fill="none" stroke="#2a2a2a" stroke-width="0.9" stroke-dasharray="1.8 0.3"/>
<text x="86.00" y="430.40" text-anchor="middle" font-size="7.2" font-weight="bold" fill="#000" stroke="#000" stroke-width="0.35">*</text>
<path d="M79.70 424.50V422.30H86.00V424.50" fill="none" stroke="#2a2a2a" stroke-width="0.9" stroke-dasharray="1.8 0.3"/>
<text x="83.30" y="420.40" text-anchor="middle" font-size="7.2" font-weight="bold" fill="#000" stroke="#000" stroke-width="0.35">*</text>
<path d="M87.10 419.90V417.70H93.00V419.90" fill="none" stroke="#2a2a2a" stroke-width="0.9" stroke-dasharray="1.8 0.3"/>
<text x="89.20" y="417.70" text-anchor="middle" font-size="7.2" font-weight="bold" fill="#000" stroke="#000" stroke-width="0.35">*</text>
<path d="M111.40 495.00V492.80H126.30V495.00" fill="none" stroke="#2a2a2a" stroke-width="0.9" stroke-dasharray="1.8 0.3"/>
<text x="118.90" y="493.20" text-anchor="middle" font-size="7.2" font-weight="bold" fill="#000" stroke="#000" stroke-width="0.35">*</text>
<path d="M112.50 487.20V485.00H118.90V487.20" fill="none" stroke="#2a2a2a" stroke-width="0.9" stroke-dasharray="1.8 0.3"/>
<text x="116.10" y="482.80" text-anchor="middle" font-size="7.2" font-weight="bold" fill="#000" stroke="#000" stroke-width="0.35">*</text>
<path d="M119.50 482.90V480.70H125.20V482.90" fill="none" stroke="#2a2a2a" stroke-width="0.9" stroke-dasharray="1.8 0.3"/>
<text x="122.00" y="480.50" text-anchor="middle" font-size="7.2" font-weight="bold" fill="#000" stroke="#000" stroke-width="0.35">*</text>
<text x="51.90" y="570.46" text-anchor="middle" font-size="6.3" font-weight="bold" fill="#111" stroke="#111" stroke-width="0.28">KMH2</text>
<text x="85.90" y="570.46" text-anchor="middle" font-size="6.3" font-weight="bold" fill="#111" stroke="#111" stroke-width="0.28">L428</text>
<text x="120.20" y="570.46" text-anchor="middle" font-size="6.3" font-weight="bold" fill="#111" stroke="#111" stroke-width="0.28">RAJI</text>
<line x1="40.50" y1="572.80" x2="131.50" y2="572.80" stroke="#222" stroke-width="0.8"/>
<text x="86.30" y="580.06" text-anchor="middle" font-size="6.3" font-weight="bold" fill="#111" stroke="#111" stroke-width="0.28">lymphoma</text>
<line x1="289.50" y1="418.80" x2="289.50" y2="600.20" stroke="#e0e0e0" stroke-width="0.8"/>
<line x1="289.50" y1="600.20" x2="409.00" y2="600.20" stroke="#cccccc" stroke-width="0.8"/>
<text x="287.00" y="430.86" text-anchor="end" font-size="6.3" font-weight="bold" fill="#111" stroke="#111" stroke-width="0.28">3500</text>
<text x="287.00" y="455.26" text-anchor="end" font-size="6.3" font-weight="bold" fill="#111" stroke="#111" stroke-width="0.28">3000</text>
<text x="287.00" y="479.56" text-anchor="end" font-size="6.3" font-weight="bold" fill="#111" stroke="#111" stroke-width="0.28">2500</text>
<text x="287.00" y="503.96" text-anchor="end" font-size="6.3" font-weight="bold" fill="#111" stroke="#111" stroke-width="0.28">2000</text>
<text x="287.00" y="528.26" text-anchor="end" font-size="6.3" font-weight="bold" fill="#111" stroke="#111" stroke-width="0.28">1500</text>
<text x="287.00" y="552.76" text-anchor="end" font-size="6.3" font-weight="bold" fill="#111" stroke="#111" stroke-width="0.28">1000</text>
<text x="287.00" y="576.76" text-anchor="end" font-size="6.3" font-weight="bold" fill="#111" stroke="#111" stroke-width="0.28">500</text>
<text x="287.00" y="601.56" text-anchor="end" font-size="6.3" font-weight="bold" fill="#111" stroke="#111" stroke-width="0.28">0</text>
<text x="267.50" y="511.26" text-anchor="middle" font-size="6.3" font-weight="bold" fill="#111" stroke="#111" stroke-width="0.14" transform="rotate(-90 267.50 509.00)">median tumor volume (%)</text>
<text x="289.20" y="607.56" text-anchor="middle" font-size="6.3" font-weight="bold" fill="#111" stroke="#111" stroke-width="0.28">0</text>
<text x="318.60" y="607.56" text-anchor="middle" font-size="6.3" font-weight="bold" fill="#111" stroke="#111" stroke-width="0.28">4</text>
<text x="347.40" y="607.56" text-anchor="middle" font-size="6.3" font-weight="bold" fill="#111" stroke="#111" stroke-width="0.28">8</text>
<text x="376.80" y="607.56" text-anchor="middle" font-size="6.3" font-weight="bold" fill="#111" stroke="#111" stroke-width="0.28">11</text>
<text x="406.00" y="607.56" text-anchor="middle" font-size="6.3" font-weight="bold" fill="#111" stroke="#111" stroke-width="0.28">15</text>
<text x="347.80" y="613.86" text-anchor="middle" font-size="6.3" font-weight="bold" fill="#111" stroke="#111" stroke-width="0.28">days</text>
<line x1="318.40" y1="529.00" x2="318.40" y2="551.50" stroke="#444" stroke-width="0.75"/>
<line x1="316.50" y1="529.00" x2="320.30" y2="529.00" stroke="#444" stroke-width="0.75"/>
<line x1="316.50" y1="551.50" x2="320.30" y2="551.50" stroke="#444" stroke-width="0.75"/>
<line x1="318.40" y1="563.30" x2="318.40" y2="580.00" stroke="#444" stroke-width="0.75"/>
<line x1="316.50" y1="563.30" x2="320.30" y2="563.30" stroke="#444" stroke-width="0.75"/>
<line x1="316.50" y1="580.00" x2="320.30" y2="580.00" stroke="#444" stroke-width="0.75"/>
<line x1="347.40" y1="423.30" x2="347.40" y2="547.00" stroke="#444" stroke-width="0.75"/>
<line x1="345.50" y1="423.30" x2="349.30" y2="423.30" stroke="#444" stroke-width="0.75"/>
<line x1="345.50" y1="547.00" x2="349.30" y2="547.00" stroke="#444" stroke-width="0.75"/>
<line x1="345.50" y1="444.30" x2="349.30" y2="444.30" stroke="#444" stroke-width="0.75"/>
<line x1="347.40" y1="555.30" x2="347.40" y2="586.00" stroke="#444" stroke-width="0.75"/>
<line x1="345.50" y1="555.30" x2="349.30" y2="555.30" stroke="#444" stroke-width="0.75"/>
<line x1="345.50" y1="586.00" x2="349.30" y2="586.00" stroke="#444" stroke-width="0.75"/>
<line x1="376.90" y1="543.50" x2="376.90" y2="578.50" stroke="#444" stroke-width="0.75"/>
<line x1="375.00" y1="543.50" x2="378.80" y2="543.50" stroke="#444" stroke-width="0.75"/>
<line x1="375.00" y1="578.50" x2="378.80" y2="578.50" stroke="#444" stroke-width="0.75"/>
<line x1="405.80" y1="486.00" x2="405.80" y2="531.00" stroke="#444" stroke-width="0.75"/>
<line x1="403.90" y1="486.00" x2="407.70" y2="486.00" stroke="#444" stroke-width="0.75"/>
<line x1="403.90" y1="531.00" x2="407.70" y2="531.00" stroke="#444" stroke-width="0.75"/>
<line x1="405.80" y1="536.00" x2="405.80" y2="557.30" stroke="#444" stroke-width="0.75"/>
<line x1="403.90" y1="536.00" x2="407.70" y2="536.00" stroke="#444" stroke-width="0.75"/>
<line x1="403.90" y1="557.30" x2="407.70" y2="557.30" stroke="#444" stroke-width="0.75"/>
<polyline points="288.80,594.50 318.40,551.50 347.40,463.80" fill="none" stroke="#333" stroke-width="0.8"/>
<polyline points="288.80,594.50 318.40,571.50 347.40,515.20" fill="none" stroke="#333" stroke-width="0.8"/>
<polyline points="288.80,594.50 318.40,590.80 347.40,572.00 376.90,558.50 405.80,515.20" fill="none" stroke="#333" stroke-width="0.8"/>
<polyline points="288.80,594.50 318.40,594.50 347.40,581.50 376.90,574.00 405.80,547.20" fill="none" stroke="#333" stroke-width="0.8"/>
<circle cx="318.40" cy="594.50" r="3.1" fill="#000" stroke="#000" stroke-width="0.7"/>
<circle cx="347.40" cy="581.50" r="3.1" fill="#000" stroke="#000" stroke-width="0.7"/>
<circle cx="376.90" cy="574.00" r="3.1" fill="#000" stroke="#000" stroke-width="0.7"/>
<circle cx="405.80" cy="547.20" r="3.1" fill="#000" stroke="#000" stroke-width="0.7"/>
<circle cx="318.40" cy="590.80" r="3.1" fill="#7a7a7a" stroke="#333" stroke-width="0.7"/>
<circle cx="347.40" cy="572.00" r="3.1" fill="#7a7a7a" stroke="#333" stroke-width="0.7"/>
<circle cx="376.90" cy="558.50" r="3.1" fill="#7a7a7a" stroke="#333" stroke-width="0.7"/>
<circle cx="405.80" cy="515.20" r="3.1" fill="#7a7a7a" stroke="#333" stroke-width="0.7"/>
<circle cx="318.40" cy="571.50" r="3.1" fill="#c4c4c4" stroke="#333" stroke-width="0.7"/>
<circle cx="347.40" cy="515.20" r="3.1" fill="#c4c4c4" stroke="#333" stroke-width="0.7"/>
<circle cx="318.40" cy="551.50" r="3.1" fill="#fff" stroke="#333" stroke-width="0.7"/>
<circle cx="347.40" cy="463.80" r="3.1" fill="#fff" stroke="#333" stroke-width="0.7"/>
<circle cx="288.80" cy="594.50" r="3.1" fill="#808080" stroke="#333" stroke-width="0.7"/>
<text x="318.40" y="586.40" text-anchor="middle" font-size="7.2" font-weight="bold" fill="#000" stroke="#000" stroke-width="0.35">*</text>
<text x="347.40" y="555.60" text-anchor="middle" font-size="7.2" font-weight="bold" fill="#000" stroke="#000" stroke-width="0.35">*</text>
<text x="376.90" y="543.40" text-anchor="middle" font-size="7.2" font-weight="bold" fill="#000" stroke="#000" stroke-width="0.35">*</text>
<text x="405.80" y="485.60" text-anchor="middle" font-size="7.2" font-weight="bold" fill="#000" stroke="#000" stroke-width="0.35">*</text>
<text x="433.00" y="414.56" text-anchor="start" font-size="6.3" font-weight="bold" fill="#111" stroke="#111" stroke-width="0.28">treatment schedule</text>
<text x="480.20" y="425.47" text-anchor="middle" font-size="8.3" font-weight="bold" fill="#111" stroke="#111" stroke-width="0.28">co</text>
<text x="482.10" y="460.27" text-anchor="middle" font-size="8.3" font-weight="bold" fill="#111" stroke="#111" stroke-width="0.28">doxo</text>
<text x="480.60" y="494.07" text-anchor="middle" font-size="8.3" font-weight="bold" fill="#111" stroke="#111" stroke-width="0.28">doxo+VCR</text>
<text x="483.50" y="529.17" text-anchor="middle" font-size="8.3" font-weight="bold" fill="#111" stroke="#111" stroke-width="0.28">VCR</text>
<line x1="433.50" y1="445.50" x2="444.80" y2="445.50" stroke="#666" stroke-width="0.8"/>
<circle cx="439.3" cy="445.5" r="1.95" fill="#fff" stroke="#777" stroke-width="0.8"/>
<line x1="451.20" y1="445.50" x2="511.50" y2="445.50" stroke="#333" stroke-width="0.8"/>
<path d="M510.3 443.80L514 445.50L510.3 447.20Z" fill="#222"/>
<line x1="451.20" y1="443.00" x2="451.20" y2="447.90" stroke="#333" stroke-width="0.8"/>
<line x1="478.70" y1="443.00" x2="478.70" y2="447.90" stroke="#333" stroke-width="0.8"/>
<text x="453.20" y="433.31" text-anchor="middle" font-size="5.9" font-weight="bold" fill="#111" stroke="#111" stroke-width="0.28">pp</text>
<text x="480.40" y="433.31" text-anchor="middle" font-size="5.9" font-weight="bold" fill="#111" stroke="#111" stroke-width="0.28">pp</text>
<path d="M451.10 435.60L452.70 437.80L451.60 437.80L451.60 438.60L452.70 438.60L451.10 440.80L449.50 438.60L450.60 438.60L450.60 437.80L449.50 437.80Z" fill="#000"/>
<path d="M454.50 435.60L456.10 437.80L455.00 437.80L455.00 438.60L456.10 438.60L454.50 440.80L452.90 438.60L454.00 438.60L454.00 437.80L452.90 437.80Z" fill="#000"/>
<path d="M478.50 435.60L480.10 437.80L479.00 437.80L479.00 438.60L480.10 438.60L478.50 440.80L476.90 438.60L478.00 438.60L478.00 437.80L476.90 437.80Z" fill="#000"/>
<path d="M481.90 435.60L483.50 437.80L482.40 437.80L482.40 438.60L483.50 438.60L481.90 440.80L480.30 438.60L481.40 438.60L481.40 437.80L480.30 437.80Z" fill="#000"/>
<line x1="433.50" y1="480.00" x2="444.80" y2="480.00" stroke="#666" stroke-width="0.8"/>
<circle cx="439.3" cy="480.0" r="1.95" fill="#fff" stroke="#777" stroke-width="0.8"/>
<line x1="451.20" y1="480.00" x2="511.50" y2="480.00" stroke="#333" stroke-width="0.8"/>
<path d="M510.3 478.30L514 480.00L510.3 481.70Z" fill="#222"/>
<line x1="451.20" y1="477.50" x2="451.20" y2="482.40" stroke="#333" stroke-width="0.8"/>
<line x1="478.70" y1="477.50" x2="478.70" y2="482.40" stroke="#333" stroke-width="0.8"/>
<text x="453.20" y="468.31" text-anchor="middle" font-size="5.9" font-weight="bold" fill="#111" stroke="#111" stroke-width="0.28">dp</text>
<text x="480.40" y="468.31" text-anchor="middle" font-size="5.9" font-weight="bold" fill="#111" stroke="#111" stroke-width="0.28">dp</text>
<path d="M451.10 470.30L452.70 472.50L451.60 472.50L451.60 472.80L452.70 472.80L451.10 475.00L449.50 472.80L450.60 472.80L450.60 472.50L449.50 472.50Z" fill="#000"/>
<path d="M454.50 470.30L456.10 472.50L455.00 472.50L455.00 472.80L456.10 472.80L454.50 475.00L452.90 472.80L454.00 472.80L454.00 472.50L452.90 472.50Z" fill="#000"/>
<path d="M478.50 470.30L480.10 472.50L479.00 472.50L479.00 472.80L480.10 472.80L478.50 475.00L476.90 472.80L478.00 472.80L478.00 472.50L476.90 472.50Z" fill="#000"/>
<path d="M481.90 470.30L483.50 472.50L482.40 472.50L482.40 472.80L483.50 472.80L481.90 475.00L480.30 472.80L481.40 472.80L481.40 472.50L480.30 472.50Z" fill="#000"/>
<line x1="433.50" y1="515.70" x2="444.80" y2="515.70" stroke="#666" stroke-width="0.8"/>
<circle cx="439.3" cy="515.7" r="1.95" fill="#777" stroke="#444" stroke-width="0.8"/>
<line x1="451.20" y1="515.70" x2="511.50" y2="515.70" stroke="#333" stroke-width="0.8"/>
<path d="M510.3 514.00L514 515.70L510.3 517.40Z" fill="#222"/>
<line x1="451.20" y1="513.20" x2="451.20" y2="518.10" stroke="#333" stroke-width="0.8"/>
<line x1="478.70" y1="513.20" x2="478.70" y2="518.10" stroke="#333" stroke-width="0.8"/>
<text x="453.20" y="503.21" text-anchor="middle" font-size="5.9" font-weight="bold" fill="#111" stroke="#111" stroke-width="0.28">dV</text>
<text x="480.40" y="503.21" text-anchor="middle" font-size="5.9" font-weight="bold" fill="#111" stroke="#111" stroke-width="0.28">dV</text>
<path d="M451.10 505.30L452.70 507.50L451.60 507.50L451.60 507.70L452.70 507.70L451.10 509.90L449.50 507.70L450.60 507.70L450.60 507.50L449.50 507.50Z" fill="#000"/>
<path d="M454.50 505.30L456.10 507.50L455.00 507.50L455.00 507.70L456.10 507.70L454.50 509.90L452.90 507.70L454.00 507.70L454.00 507.50L452.90 507.50Z" fill="#000"/>
<path d="M478.50 505.30L480.10 507.50L479.00 507.50L479.00 507.70L480.10 507.70L478.50 509.90L476.90 507.70L478.00 507.70L478.00 507.50L476.90 507.50Z" fill="#000"/>
<path d="M481.90 505.30L483.50 507.50L482.40 507.50L482.40 507.70L483.50 507.70L481.90 509.90L480.30 507.70L481.40 507.70L481.40 507.50L480.30 507.50Z" fill="#000"/>
<line x1="433.50" y1="546.90" x2="444.80" y2="546.90" stroke="#666" stroke-width="0.8"/>
<circle cx="439.3" cy="546.9" r="1.95" fill="#000" stroke="#000" stroke-width="0.8"/>
<line x1="451.20" y1="546.90" x2="511.50" y2="546.90" stroke="#333" stroke-width="0.8"/>
<path d="M510.3 545.20L514 546.90L510.3 548.60Z" fill="#222"/>
<line x1="451.20" y1="544.40" x2="451.20" y2="549.30" stroke="#333" stroke-width="0.8"/>
<line x1="478.70" y1="544.40" x2="478.70" y2="549.30" stroke="#333" stroke-width="0.8"/>
<text x="453.20" y="535.31" text-anchor="middle" font-size="5.9" font-weight="bold" fill="#111" stroke="#111" stroke-width="0.28">Vp</text>
<text x="480.40" y="535.31" text-anchor="middle" font-size="5.9" font-weight="bold" fill="#111" stroke="#111" stroke-width="0.28">Vp</text>
<path d="M451.10 537.70L452.70 539.90L451.60 539.90L451.60 540.10L452.70 540.10L451.10 542.30L449.50 540.10L450.60 540.10L450.60 539.90L449.50 539.90Z" fill="#000"/>
<path d="M454.50 537.70L456.10 539.90L455.00 539.90L455.00 540.10L456.10 540.10L454.50 542.30L452.90 540.10L454.00 540.10L454.00 539.90L452.90 539.90Z" fill="#000"/>
<path d="M478.50 537.70L480.10 539.90L479.00 539.90L479.00 540.10L480.10 540.10L478.50 542.30L476.90 540.10L478.00 540.10L478.00 539.90L476.90 539.90Z" fill="#000"/>
<path d="M481.90 537.70L483.50 539.90L482.40 539.90L482.40 540.10L483.50 540.10L481.90 542.30L480.30 540.10L481.40 540.10L481.40 539.90L480.30 539.90Z" fill="#000"/>
<text x="451.70" y="556.26" text-anchor="middle" font-size="6.3" font-weight="bold" fill="#111" stroke="#111" stroke-width="0.28">0</text>
<text x="480.20" y="556.26" text-anchor="middle" font-size="6.3" font-weight="bold" fill="#111" stroke="#111" stroke-width="0.28">8</text>
<text x="512.60" y="556.26" text-anchor="middle" font-size="6.3" font-weight="bold" fill="#111" stroke="#111" stroke-width="0.28">15</text>
<text x="483.00" y="566.66" text-anchor="middle" font-size="6.3" font-weight="bold" fill="#111" stroke="#111" stroke-width="0.28">days</text>
</svg>
</body></html>
